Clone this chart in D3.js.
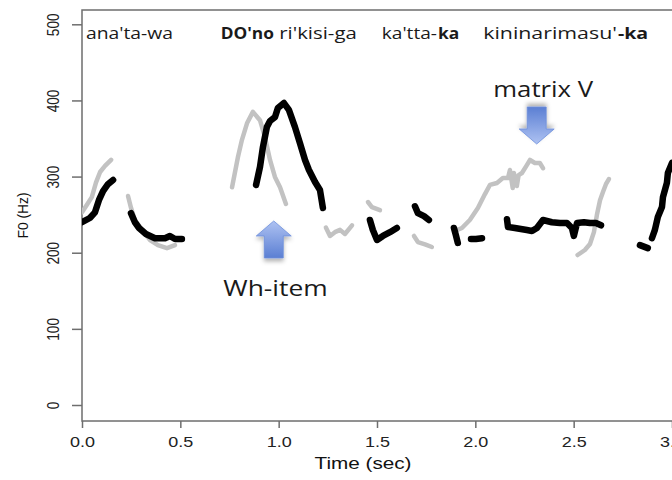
<!DOCTYPE html>
<meta charset="utf-8">
<style>
body { margin: 0; background: #fff; }
.axis text { fill: #222; font-family: "Liberation Sans", Arial, sans-serif; }
.axis line { stroke: #6e6e6e; stroke-width: 1.5px; }
.box { fill: none; stroke: #6e6e6e; stroke-width: 1.5px; }
.track { fill: none; stroke-linecap: round; stroke-linejoin: round; }
.gray { stroke: #c2c2c2; stroke-width: 4.5px; }
.black { stroke: #000; stroke-width: 6.5px; }
.note { fill: #1a1a1a; font-family: "Open Sans", sans-serif; }
</style>
<body>
<svg width="672" height="480"></svg>
<script src="https://cdn.jsdelivr.net/npm/d3@7"></script>
<script>

// F0 tracks, [time (sec), F0 (Hz)]
var grayA = [[0,253],[0.025,263],[0.05,273],[0.071,292],[0.092,306],[0.117,314],[0.148,322]];
var grayB = [[0.234,274.5],[0.249,259],[0.269,243],[0.305,230],[0.346,216.7],[0.386,210],[0.432,206],[0.473,210]];
var grayC = [[0.763,286],[0.793,325.7],[0.813,348],[0.839,370],[0.869,385],[0.905,374],[0.93,352],[0.956,321.8],[0.981,299.5],[1.007,286],[1.037,264]];
var grayD = [[1.24,233],[1.261,222],[1.286,227],[1.312,230],[1.337,224.6],[1.373,236]];
var grayE = [[1.454,266.6],[1.474,260],[1.515,256]];
var grayF = [[1.688,222],[1.708,214],[1.744,211],[1.779,207.5]];
var grayG = [[1.896,228.5],[1.932,232.5],[1.972,243],[2.013,258.7],[2.049,277],[2.074,289],[2.11,291.6],[2.14,298],[2.166,298],[2.176,308.6],[2.19,285],[2.196,304.7],[2.211,287.6],[2.22,302],[2.237,304.7],[2.262,315],[2.278,321.8],[2.303,317.8],[2.328,317.8],[2.344,311]];
var grayI = [[2.52,197],[2.557,203.6],[2.583,211.5],[2.603,227],[2.618,249.5],[2.634,269],[2.649,279.7],[2.664,290],[2.679,296.8]];

var blackA = [[0,240],[0.04,245.6],[0.066,253],[0.086,269],[0.107,281],[0.132,290],[0.158,295.5]];
var blackB = [[0.249,252],[0.269,240],[0.29,232.5],[0.325,224.6],[0.371,219],[0.422,219],[0.447,222],[0.473,218],[0.508,218]];
var blackC = [[0.885,289],[0.905,312.6],[0.92,338.8],[0.94,365],[0.956,373],[0.981,378],[0.996,390],[1.027,396.6],[1.052,387.6],[1.083,365],[1.108,344],[1.134,321.8],[1.154,308.6],[1.185,292.9],[1.21,282.4],[1.225,258.7]];
var blackE = [[1.464,243],[1.479,229.8],[1.5,216.7],[1.53,222],[1.566,227],[1.601,232.5]];
var blackF = [[1.693,261],[1.708,252],[1.739,248],[1.764,243]];
var blackG = [[1.891,232.5],[1.901,223],[1.911,212.8]];
var blackG2 = [[1.978,218],[2.003,218],[2.034,219]];
var blackH = [[2.161,244],[2.166,233.8],[2.201,232.5],[2.262,229.8],[2.288,228.5],[2.313,232.5],[2.344,243],[2.389,240],[2.43,239],[2.466,239],[2.491,232.5],[2.501,222],[2.517,239],[2.552,240],[2.583,239],[2.613,239],[2.639,236]];
var blackJ1 = [[2.837,210],[2.877,206]];
var blackJ2 = [[2.898,219],[2.913,230],[2.928,247],[2.949,260],[2.954,273],[2.974,291.6],[2.979,304.7],[3.0,318]];

var grayTracks = [grayA, grayB, grayC, grayD, grayE, grayF, grayG, grayI];
var blackTracks = [blackA, blackB, blackC, blackE, blackF, blackG, blackG2, blackH, blackJ1, blackJ2];

var xTicks = [0, 0.5, 1.0, 1.5, 2.0, 2.5, 3.0];
var yTicks = [0, 100, 200, 300, 400, 500];

// gloss words above the tracks: [text, bold, start time, end time]
var words = [
  ["ana'ta-wa", false, 0.020, 0.463],
  ["DO'no", true, 0.705, 0.976],
  ["ri'kisi-ga", false, 1.003, 1.397],
  ["ka'tta-", false, 1.524, 1.805],
  ["ka", true, 1.810, 1.918],
  ["kininarimasu'", false, 2.040, 2.720],
  ["-ka", true, 2.725, 2.879]
];

// arrows: [tip time, tip Hz, direction], labels: [text, centre time, baseline Hz, width in sec]
var arrows = [[0.975, 241.7, "up"], [2.312, 342.8, "down"]];
var callouts = [["Wh-item", 0.984, 142.6, 0.531], ["matrix V", 2.345, 405, 0.508]];

var svg = d3.select("svg");
var plotTop = 10, plotBottom = 421;

var x = d3.scaleLinear().domain([0, 3]).range([82, 672]);
var y = d3.scaleLinear().domain([0, 500]).range([405, 24.3]);

var defs = svg.append("defs");
var grad = defs.append("linearGradient").attr("id", "blue").attr("x1", 0).attr("y1", 0).attr("x2", 0).attr("y2", 1);
grad.append("stop").attr("offset", "0%").attr("stop-color", "#aec2f2");
grad.append("stop").attr("offset", "100%").attr("stop-color", "#5b7fd3");
defs.append("filter").attr("id", "shadow").attr("x", "-50%").attr("y", "-50%").attr("width", "200%").attr("height", "200%")
  .append("feDropShadow").attr("dx", 0).attr("dy", 3).attr("stdDeviation", 2)
  .attr("flood-color", "#000").attr("flood-opacity", 0.3);

svg.append("clipPath").attr("id", "clip")
  .append("rect").attr("x", x(0)).attr("y", plotTop).attr("width", 700).attr("height", plotBottom - plotTop);

svg.append("rect").attr("class", "box")
  .attr("x", x(0)).attr("y", plotTop).attr("width", 700).attr("height", plotBottom - plotTop);

var line = d3.line()
  .x(function(d) { return x(d[0]); })
  .y(function(d) { return y(d[1]); });

var tracks = svg.append("g").attr("clip-path", "url(#clip)");
tracks.selectAll(".gray").data(grayTracks).enter()
  .append("path").attr("class", "track gray").attr("d", line);
tracks.selectAll(".black").data(blackTracks).enter()
  .append("path").attr("class", "track black").attr("d", line);

var gX = svg.append("g").attr("class", "axis")
  .attr("transform", "translate(0," + plotBottom + ")")
  .call(d3.axisBottom(x).tickValues(xTicks).tickSize(7).tickSizeOuter(0).tickFormat(d3.format(".1f")));
gX.select(".domain").remove();
gX.selectAll("text")
  .attr("dy", null).attr("y", 26)
  .style("font-size", "14.5px")
  .attr("textLength", 25).attr("lengthAdjust", "spacingAndGlyphs");

var gY = svg.append("g").attr("class", "axis")
  .attr("transform", "translate(" + x(0) + ",0)")
  .call(d3.axisLeft(y).tickValues(yTicks).tickSize(10).tickSizeOuter(0));
gY.select(".domain").remove();
gY.selectAll("text")
  .attr("x", null).attr("dy", null)
  .attr("text-anchor", "middle")
  .attr("transform", "translate(-23,0) rotate(-90)")
  .style("font-size", "17px")
  .attr("textLength", function(d) { return String(d).length * 7.6; })
  .attr("lengthAdjust", "spacingAndGlyphs");

svg.append("text").attr("class", "axis")
  .attr("x", 363).attr("y", 469)
  .attr("text-anchor", "middle")
  .style("font-family", "Liberation Sans, Arial, sans-serif").style("font-size", "17px").style("fill", "#111")
  .attr("textLength", 97).attr("lengthAdjust", "spacingAndGlyphs")
  .text("Time (sec)");

svg.append("text")
  .attr("transform", "translate(27.5," + (plotTop + plotBottom) / 2 + ") rotate(-90)")
  .attr("text-anchor", "middle")
  .style("font-family", "Liberation Sans, Arial, sans-serif").style("font-size", "15px").style("fill", "#111")
  .attr("textLength", 46).attr("lengthAdjust", "spacingAndGlyphs")
  .text("F0 (Hz)");

svg.selectAll(".word").data(words).enter()
  .append("text").attr("class", "note word")
  .attr("x", function(d) { return x(d[2]); })
  .attr("y", 38.5)
  .style("font-size", "16.5px")
  .style("font-weight", function(d) { return d[1] ? "bold" : "normal"; })
  .attr("textLength", function(d) { return x(d[3]) - x(d[2]); })
  .attr("lengthAdjust", "spacingAndGlyphs")
  .text(function(d) { return d[0]; });

svg.selectAll(".callout").data(callouts).enter()
  .append("text").attr("class", "note callout")
  .attr("x", function(d) { return x(d[1]); })
  .attr("y", function(d) { return y(d[2]); })
  .attr("text-anchor", "middle")
  .style("font-size", "22px")
  .attr("textLength", function(d) { return x(d[3]) - x(0); })
  .attr("lengthAdjust", "spacingAndGlyphs")
  .text(function(d) { return d[0]; });

// block arrow outline, tip at origin pointing up
function arrowPath(headW, headH, shaftW, len) {
  return "M0,0 L" + headW + "," + headH + " L" + shaftW + "," + headH +
    " L" + shaftW + "," + len + " L" + (-shaftW) + "," + len +
    " L" + (-shaftW) + "," + headH + " L" + (-headW) + "," + headH + " Z";
}

svg.selectAll(".arrow").data(arrows).enter()
  .append("path").attr("class", "arrow")
  .attr("d", arrowPath(17.5, 15, 9.5, 37))
  .attr("transform", function(d) {
    return "translate(" + x(d[0]) + "," + y(d[1]) + ")" + (d[2] == "down" ? " scale(1,-1)" : "");
  })
  .attr("fill", "url(#blue)")
  .attr("stroke", "#6d8fdc").attr("stroke-width", 0.8)
  .attr("filter", "url(#shadow)");

</script>
</body>
